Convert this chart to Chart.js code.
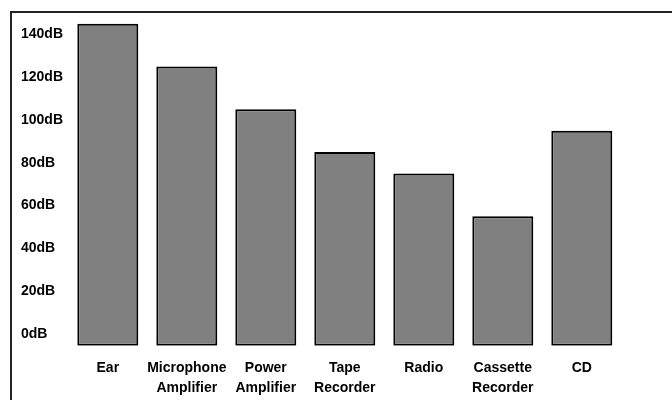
<!DOCTYPE html>
<html>
<head>
<meta charset="utf-8">
<script src="https://cdn.jsdelivr.net/npm/chart.js@4"></script>
<style>
    html, body { margin: 0; padding: 0; background: #fff; overflow: hidden; }
    #wrap { position: relative; width: 672px; height: 400px; }
    #frame { position: absolute; left: 10px; top: 11px; width: 700px; height: 420px; border-top: 2px solid #222; border-left: 2px solid #222; box-sizing: border-box; }
    canvas { position: absolute; left: 0; top: 0; }
</style>
</head>
<body>
<div id="wrap">
    <div id="frame"></div>
    <canvas id="chart" width="672" height="400"></canvas>
</div>
<script>
const categories = [['Ear'], ['Microphone', 'Amplifier'], ['Power', 'Amplifier'], ['Tape', 'Recorder'], ['Radio'], ['Cassette', 'Recorder'], ['CD']];
const dynamicRange = [145, 125, 105, 85, 75, 55, 95];
const yTicks = [0, 20, 40, 60, 80, 100, 120, 140];

const font = { family: '"Liberation Sans", Arial, sans-serif', size: 14, weight: 'bold', lineHeight: '20px' };

Chart.defaults.animation = false;
Chart.defaults.color = '#000';

new Chart(document.getElementById('chart').getContext('2d'), {
    type: 'bar',
    data: {
        labels: categories,
        datasets: [{
            data: dynamicRange,
            base: -5.5,
            backgroundColor: '#808080',
            borderColor: '#000',
            borderWidth: 2,
            borderSkipped: false,
            categoryPercentage: 1,
            barPercentage: 0.772
        }]
    },
    options: {
        responsive: false,
        layout: { padding: { top: 12.8, left: 21, right: 50.7, bottom: 0 } },
        plugins: { legend: { display: false }, tooltip: { enabled: false } },
        scales: {
            x: {
                grid: { display: false, drawTicks: false },
                border: { display: false },
                ticks: { font: font, padding: 12.8, maxRotation: 0, autoSkip: false },
                afterFit: s => { s.height = 400 - 345.7; }
            },
            y: {
                min: -5.5,
                max: 150,
                grid: { display: false, drawTicks: false },
                border: { display: false },
                afterBuildTicks: s => { s.ticks = yTicks.map(v => ({ value: v })); },
                afterFit: s => { s.width = 47.3; },
                ticks: {
                    font: font,
                    crossAlign: 'far',
                    callback: v => v + 'dB'
                }
            }
        }
    }
});
</script>
</body>
</html>
